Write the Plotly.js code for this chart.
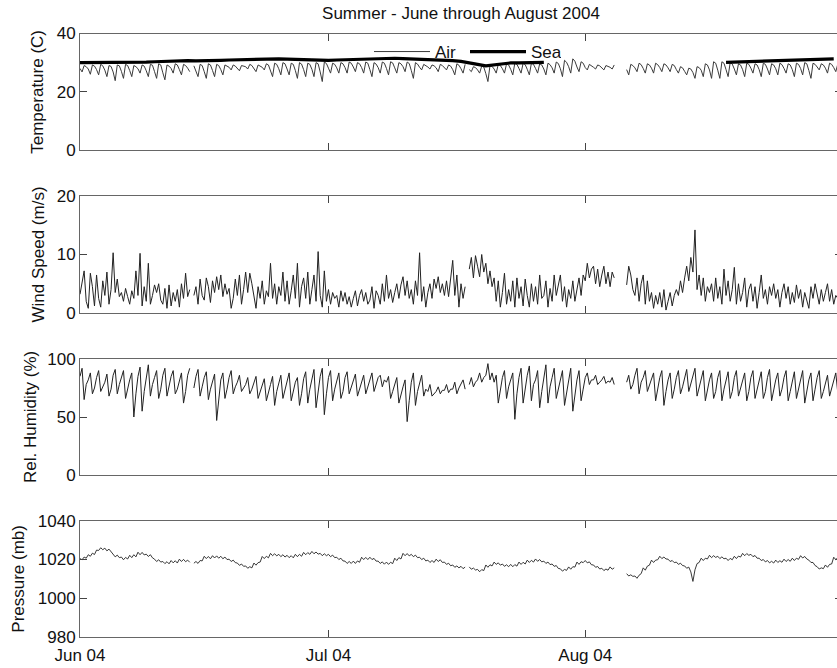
<!DOCTYPE html>
<html>
<head>
<meta charset="utf-8">
<script src="https://cdn.plot.ly/plotly-3.0.1.min.js"></script>
<style>
html,body{margin:0;padding:0;overflow:hidden;background:#fff;}
#chart{width:850px;height:668px;}
</style>
</head>
<body>
<div id="chart"></div>
<script>
// ---- Data (6-hourly samples from 2004-06-01 00:00; null = missing) ----
const sampleStart = '2004-06-01T00:00:00Z';
const sampleHours = 6;       // air, wind, humidity, pressure
const seaSampleHours = 24;   // sea temperature (daily)

const airTemp = [
28.0,26.8,29.0,28.6, 27.8,26.0,29.2,28.8, 27.6,25.8,29.4,28.9, 27.4,25.2,29.0,28.7,
26.8,23.8,29.2,28.9, 27.0,24.6,29.4,29.0, 27.3,25.2,29.0,28.6, 27.9,26.4,29.2,28.8,
27.2,25.2,29.4,29.1, 26.9,24.6,29.6,29.2, 26.5,24.1,29.2,28.8, 28.0,26.4,29.6,29.2,
27.6,25.8,29.4,29.0, 28.1,26.9,null,28.9, 27.3,25.2,29.4,29.0, 26.9,24.6,29.6,29.2,
27.3,25.2,29.4,29.0, 27.6,25.8,29.2,28.9, 28.4,27.5,29.2,28.8, 28.1,27.2,29.0,28.7,
28.6,27.8,29.4,29.0, 28.0,26.9,29.2,28.8, 28.4,27.5,29.6,29.2, 27.5,25.2,29.8,29.4,
27.9,25.8,30.0,29.6, 27.8,25.8,29.8,29.4, 27.3,24.6,30.0,29.5, 27.6,25.2,29.8,29.4,
27.7,25.2,30.0,29.6, 26.8,23.5,30.2,29.7, 28.1,26.4,29.8,29.4, 28.2,26.4,30.0,29.6,
28.3,26.4,30.2,29.8, 28.5,26.9,30.0,29.6, 28.3,26.4,30.2,29.8, 27.6,25.2,30.0,29.5,
28.3,26.4,30.2,29.8, 28.0,25.8,30.3,29.9, 28.2,26.4,30.0,29.6, 28.6,26.9,30.2,29.7,
27.3,24.6,30.0,29.5, 28.4,27.5,29.4,29.0, 28.5,27.8,29.2,28.9, 28.2,26.9,29.4,29.0,
28.3,27.5,29.2,28.8, 27.6,25.8,29.6,29.1, 27.9,26.4,29.4,null, 27.6,26.9,28.6,28.3,
27.5,26.4,28.8,28.5, 26.2,23.5,29.0,28.7, 27.8,26.4,29.4,29.0, 27.9,26.4,29.6,29.2,
27.7,25.8,29.8,29.4, 28.0,26.4,29.8,29.3, 27.7,25.8,29.8,29.4, 28.0,26.4,29.6,29.2,
27.8,25.8,29.8,29.3, 28.2,26.4,30.2,29.7, 27.9,25.2,30.8,30.1, 28.6,26.4,31.3,30.5,
28.5,26.9,30.3,29.8, 28.3,27.5,29.4,29.0, 28.4,27.8,29.2,28.9, 28.2,27.5,29.0,28.7,
28.4,27.8,29.2,null, null,null,null,null, 27.6,25.8,29.4,29.0, 28.2,26.9,29.8,29.3,
28.0,26.4,29.6,29.2, 28.1,26.4,29.8,29.3, 28.3,26.9,29.6,29.2, 28.2,26.9,29.4,29.0,
27.6,26.4,28.6,28.2, 27.0,25.8,28.1,27.8, 26.6,24.6,28.6,28.3, 27.4,25.2,29.6,29.2,
27.5,24.6,30.3,29.8, 27.4,24.6,30.3,29.8, 27.6,25.2,30.0,29.5, 27.8,25.8,29.6,29.2,
27.6,25.2,29.8,29.4, 28.1,26.4,29.6,29.2, 27.6,25.2,29.8,29.4, 27.8,25.8,29.6,29.2,
27.9,25.8,29.8,29.3, 28.0,26.4,29.6,29.2, 27.6,25.2,29.8,29.4, 28.0,25.8,30.0,29.6,
27.3,24.6,29.8,29.4, 28.5,27.5,29.6,29.2, 28.1,26.4,29.8,29.4, 28.3,26.9,29.6,29.2
];

const seaTemp = [
30.0,30.0,30.1,30.0,30.1,30.1,30.2,30.1,30.2,30.3,30.4,30.6,30.8,30.7,30.6,30.6,
30.7,30.8,30.9,31.0,31.0,31.1,31.2,31.3,31.3,31.2,31.1,31.0,31.0,30.9,30.8,30.9,
31.0,31.1,31.2,31.3,31.4,31.5,31.5,31.4,31.3,31.2,31.1,31.0,30.9,30.7,30.4,30.0,
29.4,28.9,29.2,29.7,29.9,29.9,30.0,30.0,30.1,null,null,null,null,null,null,null,
null,null,null,null,null,null,null,null,null,null,null,null,null,null,30.1,30.2,
30.3,30.4,30.5,30.6,30.7,30.8,30.9,31.0,31.0,31.1,31.2,31.3
];

const windSpeed = [
3.2,5.0,7.2,2.0, 0.8,6.8,4.5,1.2, 6.5,2.5,1.0,5.5, 3.0,7.0,1.5,4.0,
10.3,3.5,5.8,2.8, 3.5,2.0,4.2,2.8, 1.5,3.8,2.5,7.2, 3.0,10.2,1.2,4.5,
2.0,8.5,1.5,3.0, 4.8,3.5,5.0,2.2, 1.5,4.2,0.8,4.8, 1.2,3.5,2.0,4.0,
1.0,5.0,2.5,6.8, 2.8,4.0,null,3.0, 4.5,1.5,5.8,3.0, 2.2,6.0,4.5,1.8,
5.5,3.5,6.2,4.0, 6.5,2.8,5.0,3.2, 4.2,0.8,2.5,5.8, 3.0,6.5,1.5,4.0,
7.0,3.5,6.8,5.0, 3.0,0.8,4.5,2.5, 5.5,1.5,3.8,2.8, 8.5,2.5,5.0,1.5,
4.5,3.0,7.0,2.0, 5.5,1.5,3.8,6.5, 2.5,8.5,1.0,4.5, 6.0,2.5,7.0,1.5,
4.0,6.5,2.0,10.5, 3.0,1.0,7.2,2.0, 4.0,1.5,3.5,2.5, 3.0,1.0,3.8,2.0,
3.5,1.5,2.8,1.0, 2.5,3.8,1.2,3.0, 4.0,2.0,3.5,1.5, 2.2,4.5,0.8,3.8,
3.0,1.5,5.0,2.0, 6.5,2.5,4.0,1.8, 3.5,5.0,2.5,4.8, 6.2,3.0,5.5,2.5,
4.0,1.5,5.5,3.0, 10.3,2.0,4.5,1.0, 3.5,5.0,2.5,5.8, 4.2,6.2,3.5,5.0,
3.0,5.5,2.8,6.0, 9.0,3.0,6.5,1.0, 5.0,2.5,4.5,null, 7.5,9.5,6.0,9.8,
8.0,6.2,10.0,7.0, 8.5,5.0,7.2,4.5, 6.0,2.0,5.5,1.0, 3.5,6.8,1.5,4.0,
2.0,5.5,1.0,6.0, 2.5,4.5,1.2,5.8, 3.0,1.0,5.0,2.0, 4.5,1.5,6.5,2.5,
3.0,5.5,1.0,4.2, 2.0,6.5,3.0,5.0, 6.5,2.0,4.5,1.0, 4.0,2.5,5.5,2.0,
4.0,6.0,3.0,6.5, 5.5,8.5,6.0,7.5, 8.0,5.0,7.5,4.5, 6.5,8.0,5.0,7.0,
4.5,7.0,6.0,null, null,null,null,null, 4.8,8.0,6.5,4.0, 3.0,6.0,2.0,5.0,
6.5,1.5,5.5,2.0, 3.5,0.8,3.0,1.5, 3.5,1.0,4.0,0.5, 2.0,3.5,1.2,3.0,
4.0,3.0,5.5,3.5, 6.0,8.0,5.5,9.5, 7.0,14.2,4.0,6.5, 3.0,6.0,2.0,4.5,
3.5,5.0,2.0,6.0, 2.5,4.5,1.5,7.5, 3.0,5.5,2.0,4.0, 7.8,1.5,5.0,2.0,
3.5,6.0,1.0,4.0, 5.0,2.0,4.5,0.8, 3.5,6.5,2.5,4.0, 1.5,4.5,3.0,5.0,
2.5,4.0,1.0,3.5, 5.0,2.5,4.5,1.5, 3.5,1.8,4.8,2.5, 4.0,1.0,3.5,2.0,
0.8,4.5,2.5,5.0, 3.0,1.5,4.0,2.0, 3.5,5.0,2.0,4.0, 1.5,3.0,2.5,3.8
];

const relHumidity = [
85,92,65,78, 82,88,70,75, 84,90,72,76, 80,87,68,74, 86,91,70,78, 84,90,66,75,
82,88,50,70, 85,93,55,72, 86,95,68,78, 84,90,66,74, 86,92,68,76, 85,90,70,74,
82,88,62,72, 86,92,null,75, 85,91,68,76, 84,89,65,74, 80,87,47,68, 82,88,66,74,
84,90,70,76, 80,86,72,75, 78,84,70,74, 80,85,66,72, 77,83,64,70, 78,85,60,72,
80,86,66,74, 82,88,64,72, 80,84,60,70, 83,89,62,74, 82,91,58,72, 85,92,52,70,
84,90,64,74, 82,88,66,72, 84,89,70,76, 82,87,68,74, 81,86,70,76, 83,88,72,78,
84,86,76,82, 80,85,66,72, 78,84,62,70, 76,82,46,64, 80,88,60,72, 78,86,68,74,
72,78,68,70, 72,76,70,73, 73,78,71,74, 74,80,70,75, 78,82,74,null, 78,84,76,80,
82,88,80,84, 86,96,82,88, 80,86,62,74, 84,90,66,76, 82,88,48,70, 84,92,62,76,
86,94,64,78, 82,90,58,72, 86,95,62,76, 84,92,66,74, 82,90,60,72, 84,92,55,70,
82,90,64,74, 84,88,78,82, 82,86,78,80, 82,85,79,81, 80,84,78,null, null,null,null,null,
80,86,74,78, 86,92,70,80, 84,90,72,78, 82,88,64,74, 84,90,60,72, 82,88,66,74,
84,90,70,76, 85,91,72,78, 86,92,68,76, 84,90,64,74, 82,88,66,72, 84,90,64,74,
82,89,66,72, 84,90,68,74, 82,88,64,72, 84,90,66,74, 82,89,66,72, 84,91,64,74,
82,88,68,74, 84,90,64,72, 82,89,66,74, 84,90,62,72, 82,88,64,74, 84,90,66,72,
80,86,68,74, 82,88,70,76
];

const pressure = [
1020.4,1019.8,1021.2,1020.6, 1022.4,1021.6,1023.2,1022.5, 1024.8,1024.6,1026.0,1025.0, 1025.8,1024.4,1025.3,1023.9,
1022.8,1021.3,1022.2,1020.9, 1021.2,1019.8,1021.0,1020.2, 1022.1,1020.9,1022.4,1021.3, 1023.7,1022.4,1023.6,1022.3,
1022.7,1021.5,1022.4,1020.8, 1020.1,1018.9,1019.8,1018.6, 1018.9,1017.8,1018.8,1017.7, 1019.4,1018.2,1019.3,1018.1,
1020.1,1018.9,1020.0,1018.8, 1019.6,1018.5,null,1018.0, 1018.9,1017.9,1019.4,1019.2, 1021.6,1020.4,1021.5,1020.3,
1021.9,1020.7,1021.8,1020.6, 1021.6,1020.3,1021.2,1019.9, 1020.1,1018.9,1019.6,1018.3, 1018.1,1016.9,1017.6,1016.4,
1016.6,1015.4,1016.2,1015.6, 1018.1,1017.0,1018.3,1018.6, 1021.5,1020.4,1021.6,1020.8, 1023.1,1021.9,1022.9,1021.8,
1022.6,1021.4,1022.4,1021.2, 1022.1,1020.9,1021.9,1020.8, 1022.6,1021.4,1022.6,1021.6, 1023.6,1022.4,1023.5,1022.6,
1024.1,1022.9,1023.8,1022.7, 1023.1,1021.9,1022.9,1021.9, 1022.6,1021.4,1022.2,1020.9, 1021.1,1019.9,1020.6,1019.2,
1019.1,1017.9,1018.9,1017.9, 1019.1,1017.9,1019.2,1018.5, 1021.1,1019.9,1021.0,1019.9, 1021.1,1019.9,1020.5,1019.1,
1019.1,1017.9,1018.7,1017.5, 1018.6,1017.4,1018.5,1017.8, 1020.6,1019.4,1020.9,1020.2, 1023.1,1021.9,1023.0,1021.8,
1022.6,1021.4,1022.2,1020.9, 1021.1,1019.9,1020.6,1019.2, 1019.6,1018.4,1019.4,1018.4, 1020.1,1018.9,1019.8,1018.4,
1018.6,1017.4,1018.0,1016.7, 1017.1,1015.9,1016.6,1015.6, 1016.4,1015.2,1016.0,null, 1016.1,1014.9,1015.5,1014.5,
1014.8,1013.6,1014.7,1014.2, 1017.1,1015.9,1017.2,1016.6, 1018.6,1017.4,1018.2,1017.0, 1017.6,1016.4,1017.2,1016.2,
1017.4,1016.2,1017.3,1016.5, 1018.6,1017.4,1018.5,1017.6, 1019.6,1018.4,1019.5,1018.6, 1020.2,1019.0,1019.9,1018.7,
1019.1,1017.9,1018.6,1017.3, 1017.6,1016.4,1016.8,1015.3, 1015.1,1013.9,1014.8,1014.3, 1016.1,1014.9,1016.2,1016.0,
1018.6,1017.4,1018.8,1018.3, 1019.4,1018.2,1018.7,1017.2, 1017.1,1015.9,1016.3,1015.0, 1015.4,1014.2,1015.0,1014.4,
1016.1,1014.9,1015.6,null, null,null,null,null, 1012.6,1011.4,1012.0,1011.2, 1011.4,1010.2,1011.8,1012.6,
1015.6,1014.4,1016.5,1017.0, 1019.6,1018.4,1019.6,1019.8, 1021.6,1020.4,1021.2,1020.2, 1020.1,1018.9,1019.4,1018.3,
1018.6,1017.4,1018.0,1016.8, 1016.6,1015.4,1016.0,1013.5, 1008.6,1014.6,1017.8,1018.4, 1020.6,1019.4,1020.6,1020.2,
1022.1,1020.9,1021.9,1021.0, 1021.6,1020.4,1021.3,1020.3, 1020.6,1019.4,1020.5,1019.8, 1021.6,1020.4,1021.7,1021.2,
1023.1,1021.9,1023.0,1022.1, 1022.6,1021.4,1022.0,1020.6, 1020.6,1019.4,1019.9,1018.7, 1019.4,1018.2,1019.0,1018.1,
1019.6,1018.4,1019.3,1018.5, 1020.1,1018.9,1019.9,1019.0, 1020.6,1019.4,1020.6,1020.0, 1021.9,1020.7,1021.5,1020.2,
1019.6,1018.4,1018.4,1016.8, 1016.2,1015.0,1015.6,1015.2, 1017.1,1015.9,1017.4,1017.6, 1021.1,1019.9,1020.9,1020.5
];

const monthTickDates = ['2004-06-01', '2004-07-01', '2004-08-01'];
const monthTickLabels = ['Jun 04', 'Jul 04', 'Aug 04'];
const xRange = ['2004-06-01', '2004-09-01'];
const seriesNames = ['Air', 'Sea'];
const yLabels = ['Temperature (C)', 'Wind Speed (m/s)', 'Rel. Humidity (%)', 'Pressure (mb)'];
const chartTitle = 'Summer - June through August 2004';

// ---- timestamps ----
function times(n, stepH) {
  const t0 = Date.parse(sampleStart);
  const out = [];
  for (let i = 0; i < n; i++) out.push(new Date(t0 + i * stepH * 3600e3).toISOString().slice(0, 19));
  return out;
}

const FONT = 'Liberation Sans, Arial, sans-serif';
const lineCol = '#222';

const traces = [
  {x: times(airTemp.length, sampleHours), y: airTemp, name: seriesNames[0], type: 'scatter', mode: 'lines',
   line: {color: '#3a3a3a', width: 1}, xaxis: 'x', yaxis: 'y', connectgaps: false},
  {x: times(seaTemp.length, seaSampleHours), y: seaTemp, name: seriesNames[1], type: 'scatter', mode: 'lines',
   line: {color: '#000', width: 3.2}, xaxis: 'x', yaxis: 'y', connectgaps: false},
  {x: times(windSpeed.length, sampleHours), y: windSpeed, type: 'scatter', mode: 'lines', showlegend: false,
   line: {color: lineCol, width: 1}, xaxis: 'x2', yaxis: 'y2'},
  {x: times(relHumidity.length, sampleHours), y: relHumidity, type: 'scatter', mode: 'lines', showlegend: false,
   line: {color: lineCol, width: 1}, xaxis: 'x3', yaxis: 'y3'},
  {x: times(pressure.length, sampleHours), y: pressure, type: 'scatter', mode: 'lines', showlegend: false,
   line: {color: lineCol, width: 0.9}, xaxis: 'x4', yaxis: 'y4'}
];

const H = 668, W = 850, L = 80, R = 8;
const plotW = W - L - R;
function dom(topPx, botPx) { return [1 - botPx / H, 1 - topPx / H]; }
const panels = [[33.5, 150], [196, 313], [359, 475], [520.7, 636.7]];

function xax(anchor, labels) {
  return {type: 'date', range: xRange, tickvals: monthTickDates, ticktext: monthTickLabels,
    ticks: 'inside', ticklen: 7, tickwidth: 1, tickcolor: '#444', showline: true, linecolor: '#666', linewidth: 1,
    mirror: 'allticks', showgrid: false, zeroline: false, showticklabels: labels, anchor: anchor,
    ticklabelstandoff: labels ? 3 : 0,
    tickfont: {family: FONT, size: 17, color: '#111'}};
}
function yax(range, vals, i, anchor) {
  return {range: range, tickvals: vals, ticks: 'inside', ticklen: 7, tickwidth: 1, tickcolor: '#444',
    showline: true, linecolor: '#666', linewidth: 1, mirror: 'allticks', showgrid: false, zeroline: false,
    domain: dom(panels[i][0], panels[i][1]), anchor: anchor,
    tickfont: {family: FONT, size: 17, color: '#111'}};
}

const labelX = [38, 38, 30, 19];
const annotations = yLabels.map((t, i) => ({
  text: t, textangle: -90, showarrow: false, xref: 'paper', yref: 'paper',
  x: (labelX[i] - L) / plotW, y: 1 - (panels[i][0] + panels[i][1]) / 2 / H,
  xanchor: 'center', yanchor: 'middle', font: {family: FONT, size: 17, color: '#111'}
}));

const layout = {
  width: W, height: H,
  margin: {l: L, r: R, t: 0, b: 0},
  paper_bgcolor: '#fff', plot_bgcolor: '#fff',
  font: {family: FONT, size: 17, color: '#111'},
  title: {text: chartTitle, xref: 'paper', x: 0.5, xanchor: 'center', yref: 'container', y: 1 - 13 / H, yanchor: 'middle',
    font: {family: FONT, size: 17, color: '#111'}},
  showlegend: true,
  legend: {orientation: 'h', xref: 'paper', yref: 'paper', x: (369 - L) / plotW, xanchor: 'left', y: 1 - 52 / H, yanchor: 'middle',
    itemwidth: 56, entrywidth: 25, entrywidthmode: 'pixels',
    bgcolor: 'rgba(0,0,0,0)', borderwidth: 0, font: {family: FONT, size: 17, color: '#111'}},
  xaxis: xax('y', false),
  xaxis2: xax('y2', false),
  xaxis3: xax('y3', false),
  xaxis4: xax('y4', true),
  yaxis: yax([0, 40], [0, 20, 40], 0, 'x'),
  yaxis2: yax([0, 20], [0, 10, 20], 1, 'x2'),
  yaxis3: yax([0, 100], [0, 50, 100], 2, 'x3'),
  yaxis4: yax([980, 1040], [980, 1000, 1020, 1040], 3, 'x4'),
  annotations: annotations
};

Plotly.newPlot('chart', traces, layout, {staticPlot: true, displayModeBar: false});
</script>
</body>
</html>
